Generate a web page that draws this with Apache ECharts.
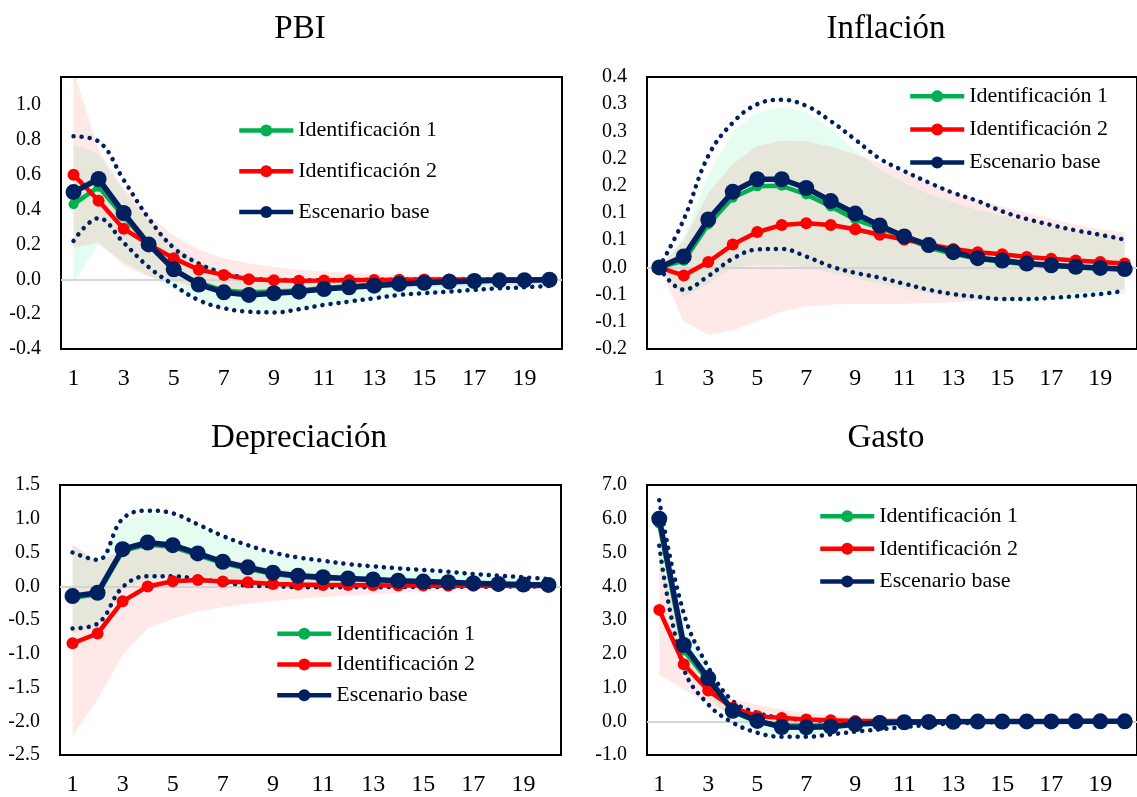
<!DOCTYPE html>
<html>
<head>
<meta charset="utf-8">
<title>Respuestas al impulso</title>
<script src="https://cdn.jsdelivr.net/npm/echarts@6/dist/echarts.min.js"></script>
<style>
  html, body { margin: 0; padding: 0; background: #fff; }
  #main { width: 1137px; height: 797px; }
</style>
</head>
<body>
<div id="main"></div>
<script>
  const periods = ['1', '2', '3', '4', '5', '6', '7', '8', '9', '10', '11', '12', '13', '14', '15', '16', '17', '18', '19', '20'];
  const names = ['Identificación 1', 'Identificación 2', 'Escenario base'];

  // PBI
  const pbiId1 = [0.43, 0.53, 0.36, 0.20, 0.05, -0.02, -0.065, -0.075, -0.07, -0.065, -0.05, -0.04, -0.03, -0.02, -0.015, -0.01, -0.008, -0.005, -0.004, -0.003];
  const pbiId2 = [0.60, 0.45, 0.29, 0.20, 0.12, 0.055, 0.025, 0.0, -0.005, -0.008, -0.007, -0.005, -0.004, -0.003, -0.002, -0.002, -0.001, -0.001, 0.0, 0.0];
  const pbiBase = [0.50, 0.575, 0.38, 0.20, 0.057, -0.03, -0.075, -0.09, -0.08, -0.071, -0.056, -0.046, -0.037, -0.027, -0.02, -0.014, -0.01, -0.006, -0.005, -0.003];
  const pbiBaseHi = [0.82, 0.79, 0.57, 0.35, 0.18, 0.09, 0.035, 0.007, -0.003, -0.005, -0.005, -0.004, -0.003, -0.002, -0.002, -0.001, 0.0, 0.0, 0.0, 0.0];
  const pbiBaseLo = [0.22, 0.35, 0.21, 0.07, -0.033, -0.12, -0.166, -0.186, -0.19, -0.172, -0.147, -0.128, -0.109, -0.09, -0.08, -0.071, -0.061, -0.052, -0.046, -0.038];
  const pbiId1Hi = [0.77, 0.72, 0.50, 0.33, 0.20, 0.10, 0.05, 0.02, 0.01, 0.005, 0.0, 0.0, 0.0, 0.0, 0.0, 0.0, 0.0, 0.0, 0.0, 0.0];
  const pbiId1Lo = [-0.02, 0.20, 0.10, 0.02, -0.06, -0.12, -0.16, -0.175, -0.18, -0.17, -0.15, -0.13, -0.11, -0.095, -0.085, -0.075, -0.065, -0.055, -0.05, -0.045];
  const pbiId2Hi = [1.20, 0.74, 0.52, 0.37, 0.25, 0.17, 0.12, 0.09, 0.07, 0.055, 0.045, 0.038, 0.03, 0.025, 0.02, 0.017, 0.014, 0.012, 0.01, 0.008];
  const pbiId2Lo = [0.18, 0.21, 0.08, 0.015, -0.014, -0.05, -0.07, -0.075, -0.075, -0.07, -0.065, -0.06, -0.055, -0.05, -0.045, -0.04, -0.037, -0.034, -0.031, -0.03];

  // Inflación
  const infId1 = [0, 0.012, 0.079, 0.128, 0.149, 0.15, 0.134, 0.112, 0.088, 0.072, 0.056, 0.036, 0.025, 0.016, 0.01, 0.006, 0.003, 0.0, -0.002, -0.004];
  const infId2 = [0, -0.015, 0.010, 0.042, 0.065, 0.078, 0.081, 0.078, 0.07, 0.06, 0.051, 0.042, 0.034, 0.028, 0.024, 0.019, 0.016, 0.0125, 0.010, 0.007];
  const infBase = [0, 0.02, 0.088, 0.139, 0.162, 0.162, 0.146, 0.122, 0.099, 0.077, 0.057, 0.041, 0.028, 0.017, 0.0125, 0.007, 0.004, 0.001, -0.001, -0.003];
  const infBaseHi = [0, 0.088, 0.205, 0.266, 0.30, 0.308, 0.297, 0.269, 0.235, 0.20, 0.177, 0.156, 0.137, 0.122, 0.103, 0.089, 0.078, 0.068, 0.06, 0.051];
  const infBaseLo = [0, -0.041, -0.016, 0.016, 0.033, 0.034, 0.02, 0.002, -0.01, -0.019, -0.03, -0.041, -0.049, -0.054, -0.058, -0.058, -0.056, -0.053, -0.049, -0.043];
  const infId1Hi = [0, 0.055, 0.17, 0.25, 0.285, 0.295, 0.285, 0.255, 0.215, 0.18, 0.155, 0.135, 0.12, 0.105, 0.095, 0.085, 0.075, 0.067, 0.06, 0.055];
  const infId1Lo = [0, -0.056, -0.03, 0.0, 0.005, 0.005, 0.0, -0.01, -0.02, -0.03, -0.04, -0.048, -0.055, -0.06, -0.062, -0.062, -0.06, -0.057, -0.053, -0.048];
  const infId2Hi = [0, 0.05, 0.137, 0.19, 0.223, 0.233, 0.232, 0.222, 0.208, 0.192, 0.174, 0.156, 0.14, 0.125, 0.112, 0.10, 0.089, 0.079, 0.07, 0.064];
  const infId2Lo = [0, -0.099, -0.124, -0.116, -0.099, -0.081, -0.072, -0.068, -0.067, -0.067, -0.067, -0.066, -0.064, -0.061, -0.058, -0.055, -0.052, -0.048, -0.044, -0.04];

  // Depreciación
  const depId1 = [-0.17, -0.12, 0.52, 0.62, 0.58, 0.46, 0.34, 0.26, 0.18, 0.14, 0.12, 0.11, 0.095, 0.075, 0.062, 0.053, 0.04, 0.03, 0.022, 0.018];
  const depId2 = [-0.846, -0.70, -0.224, -0.004, 0.075, 0.094, 0.07, 0.06, 0.035, 0.025, 0.02, 0.018, 0.015, 0.012, 0.01, 0.008, 0.007, 0.006, 0.005, 0.005];
  const depBase = [-0.146, -0.097, 0.55, 0.648, 0.608, 0.486, 0.363, 0.28, 0.20, 0.157, 0.133, 0.115, 0.10, 0.083, 0.069, 0.06, 0.045, 0.035, 0.025, 0.02];
  const depBaseHi = [0.50, 0.39, 1.00, 1.12, 1.08, 0.917, 0.745, 0.608, 0.50, 0.427, 0.378, 0.329, 0.295, 0.266, 0.241, 0.216, 0.182, 0.157, 0.133, 0.108];
  const depBaseLo = [-0.626, -0.553, -0.014, 0.148, 0.148, 0.108, 0.06, 0.01, 0.0, -0.014, -0.014, -0.014, -0.014, -0.012, -0.012, -0.01, -0.008, -0.006, -0.005, -0.005];
  const depId1Hi = [0.60, 0.37, 0.95, 1.08, 1.05, 0.88, 0.72, 0.58, 0.47, 0.40, 0.35, 0.30, 0.27, 0.24, 0.21, 0.19, 0.16, 0.14, 0.12, 0.10];
  const depId1Lo = [-0.70, -0.62, -0.05, 0.10, 0.12, 0.10, 0.06, 0.03, 0.01, 0.0, -0.005, -0.005, -0.005, -0.005, -0.005, -0.005, -0.005, -0.005, -0.005, -0.005];
  const depId2Hi = [0.63, 0.35, 0.55, 0.60, 0.60, 0.50, 0.42, 0.34, 0.27, 0.22, 0.19, 0.16, 0.14, 0.12, 0.10, 0.09, 0.08, 0.07, 0.06, 0.05];
  const depId2Lo = [-2.22, -1.68, -1.02, -0.626, -0.48, -0.37, -0.31, -0.26, -0.22, -0.185, -0.16, -0.137, -0.117, -0.097, -0.085, -0.07, -0.055, -0.045, -0.03, -0.02];

  // Gasto
  const gasId1 = [5.85, 2.10, 1.20, 0.28, -0.02, -0.12, -0.13, -0.11, -0.08, -0.05, -0.03, -0.02, -0.015, -0.01, -0.008, -0.006, -0.004, -0.003, -0.002, -0.001];
  const gasId2 = [3.30, 1.69, 0.91, 0.40, 0.15, 0.10, 0.05, 0.03, 0.01, 0.01, 0.005, 0.003, 0.002, 0.001, 0.0, 0.0, 0.0, 0.0, 0.0, 0.0];
  const gasBase = [6.00, 2.26, 1.28, 0.31, 0.01, -0.17, -0.18, -0.16, -0.09, -0.05, -0.03, -0.02, -0.015, -0.01, -0.008, -0.006, -0.004, -0.003, -0.002, -0.001];
  const gasBaseHi = [6.55, 3.20, 1.60, 0.60, 0.25, 0.10, 0.04, 0.01, 0.0, 0.0, 0.0, 0.0, 0.0, 0.0, 0.0, 0.0, 0.0, 0.0, 0.0, 0.0];
  const gasBaseLo = [5.20, 1.57, 0.50, -0.04, -0.34, -0.46, -0.46, -0.39, -0.31, -0.24, -0.17, -0.11, -0.07, -0.04, -0.02, -0.01, -0.005, 0.0, 0.0, 0.0];
  const gasId1Hi = [6.20, 2.90, 1.55, 0.55, 0.20, 0.05, 0.0, 0.0, -0.01, -0.01, 0.0, 0.0, 0.0, 0.0, 0.0, 0.0, 0.0, 0.0, 0.0, 0.0];
  const gasId1Lo = [4.50, 1.70, 0.70, 0.05, -0.30, -0.42, -0.42, -0.36, -0.28, -0.20, -0.14, -0.09, -0.06, -0.04, -0.02, -0.01, -0.005, 0.0, 0.0, 0.0];
  const gasId2Hi = [5.00, 2.30, 1.40, 0.65, 0.50, 0.35, 0.25, 0.18, 0.13, 0.10, 0.08, 0.06, 0.05, 0.04, 0.03, 0.02, 0.015, 0.01, 0.01, 0.005];
  const gasId2Lo = [1.38, 0.95, 0.50, 0.20, 0.02, -0.04, -0.06, -0.06, -0.05, -0.04, -0.03, -0.025, -0.02, -0.015, -0.01, -0.008, -0.006, -0.004, -0.003, -0.002];

  const serif = 'Liberation Serif';
  const GREEN = '#00B050', RED = '#FF0000', NAVY = '#002060';

  // layout of the four panels
  const panels = [
    { title: 'PBI', tx: 300, ty: 13, left: 61, top: 77, h: 272, min: -0.4, max: 1.16, step: 0.2, leg: [237, 119.5, 18.7],
      id1: pbiId1, id2: pbiId2, base: pbiBase, hi: pbiBaseHi, lo: pbiBaseLo, g1: pbiId1Lo, g2: pbiId1Hi, p1: pbiId2Lo, p2: pbiId2Hi },
    { title: 'Inflación', tx: 886, ty: 13, left: 647, top: 77, h: 272, min: -0.15, max: 0.35, step: 0.05, leg: [908, 85.2, 11.2],
      id1: infId1, id2: infId2, base: infBase, hi: infBaseHi, lo: infBaseLo, g1: infId1Lo, g2: infId1Hi, p1: infId2Lo, p2: infId2Hi },
    { title: 'Depreciación', tx: 299, ty: 422, left: 60, top: 485, h: 272, min: -2.5, max: 1.5, step: 0.5, leg: [275, 622.8, 8.7],
      id1: depId1, id2: depId2, base: depBase, hi: depBaseHi, lo: depBaseLo, g1: depId1Lo, g2: depId1Hi, p1: depId2Lo, p2: depId2Hi },
    { title: 'Gasto', tx: 886, ty: 422, left: 647, top: 485, h: 272, min: -1, max: 7, step: 1, leg: [818, 505.2, 10.6],
      id1: gasId1, id2: gasId2, base: gasBase, hi: gasBaseHi, lo: gasBaseLo, g1: gasId1Lo, g2: gasId1Hi, p1: gasId2Lo, p2: gasId2Hi }
  ];

  // Excel style rounding (half away from zero)
  function fmt(v) {
    const r = Math.sign(v) * Math.round(Math.abs(v) * 10 + 1e-9) / 10;
    return (r === 0 ? 0 : r).toFixed(1);
  }

  // shaded band = invisible lower line + stacked difference with area
  function band(k, lo, hi, color, key) {
    const common = { type: 'line', xAxisIndex: k, yAxisIndex: k, stack: key + k, stackStrategy: 'all',
      symbol: 'none', silent: true, z: 1, lineStyle: { width: 0, opacity: 0 } };
    return [
      Object.assign({}, common, { data: lo }),
      Object.assign({}, common, { data: hi.map((v, i) => v - lo[i]), areaStyle: { color: color, opacity: 1 } })
    ];
  }

  function dotted(k, data, zero) {
    const s = { type: 'line', xAxisIndex: k, yAxisIndex: k, data: data, symbol: 'none', smooth: 0.4, silent: true, z: 3,
      lineStyle: { color: NAVY, width: 4.5, type: [0.1, 8], cap: 'round' } };
    if (zero) {
      s.markLine = { silent: true, symbol: 'none', z: 2, label: { show: false },
        lineStyle: { color: '#D4D4D4', width: 2, type: 'solid' }, data: [{ yAxis: 0 }] };
    }
    return s;
  }

  function main(k, name, data, color, width, size, z) {
    return { type: 'line', name: name, xAxisIndex: k, yAxisIndex: k, data: data, symbol: 'circle', symbolSize: size, z: z,
      lineStyle: { color: color, width: width }, itemStyle: { color: color, borderWidth: 0 } };
  }

  const option = {
    animation: false,
    backgroundColor: '#fff',
    title: panels.map(p => ({ text: p.title, left: p.tx, top: p.ty, textAlign: 'center', padding: 0,
      textStyle: { fontFamily: serif, fontSize: 33, fontWeight: 'normal', color: '#000' } })),
    legend: panels.map(p => ({ data: names, orient: 'vertical', left: p.leg[0], top: p.leg[1], itemGap: p.leg[2],
      itemWidth: 54, itemHeight: 15, padding: 0, selectedMode: false,
      lineStyle: { width: 4.5 },
      textStyle: { fontFamily: serif, fontSize: 22, color: '#000', lineHeight: 21 } })),
    grid: panels.map(p => ({ left: p.left, top: p.top, width: 501, height: p.h, show: true,
      borderColor: '#000', borderWidth: 2, backgroundColor: 'transparent' })),
    xAxis: panels.map((p, k) => ({ type: 'category', gridIndex: k, data: periods, boundaryGap: true,
      axisLine: { show: false }, axisTick: { show: false }, splitLine: { show: false },
      axisLabel: { interval: 1, margin: 18, fontFamily: serif, fontSize: 24, lineHeight: 24, color: '#000' } })),
    yAxis: panels.map((p, k) => ({ type: 'value', gridIndex: k, min: p.min, max: p.max, interval: p.step,
      axisLine: { show: false }, axisTick: { show: false }, splitLine: { show: false },
      axisLabel: { margin: 20, showMaxLabel: k !== 0, fontFamily: serif, fontSize: 20, color: '#000', formatter: fmt } })),
    series: []
  };

  panels.forEach((p, k) => {
    option.series.push(
      ...band(k, p.g1, p.g2, 'rgba(0,232,118,0.1)', 'g'),
      ...band(k, p.p1, p.p2, 'rgba(255,0,0,0.09)', 'p'),
      dotted(k, p.hi, true),
      dotted(k, p.lo, false),
      main(k, names[0], p.id1, GREEN, 4.5, 10, 4),
      main(k, names[1], p.id2, RED, 4.5, 12, 5),
      main(k, names[2], p.base, NAVY, 5.5, 16, 6)
    );
  });

  const chart = echarts.init(document.getElementById('main'));
  chart.setOption(option);
</script>
</body>
</html>
